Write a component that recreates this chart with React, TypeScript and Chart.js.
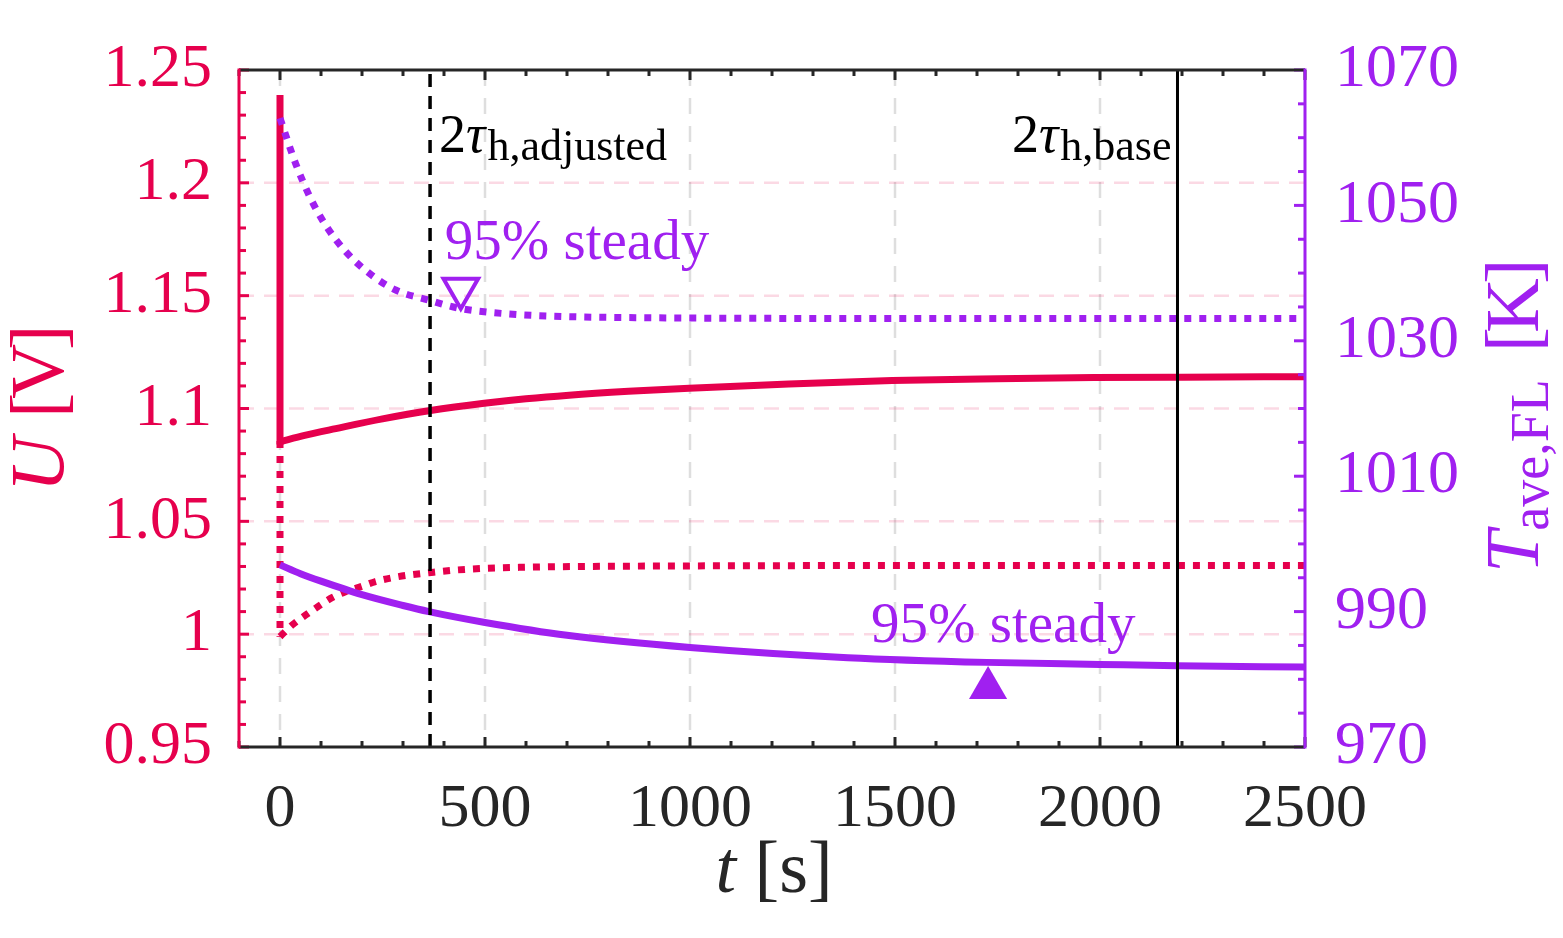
import React, { useEffect, useRef } from "react";
import { Chart, registerables } from "chart.js";

Chart.register(...registerables);

const RED = "#E6004D";
const PURPLE = "#A020F0";
const DARK = "#262626";
const FAMILY = "Liberation Serif";
const CSSFONT = '"Liberation Serif", "Times New Roman", serif';

// axis ticks
const xTicks = [0, 500, 1000, 1500, 2000, 2500];
const xTickLabels = ["0", "500", "1000", "1500", "2000", "2500"];
const uTicks = [0.95, 1.0, 1.05, 1.1, 1.15, 1.2, 1.25];
const uTickLabels = ["0.95", "1", "1.05", "1.1", "1.15", "1.2", "1.25"];
const tempTicks = [970, 990, 1010, 1030, 1050, 1070];
const tempTickLabels = ["970", "990", "1010", "1030", "1050", "1070"];

// U, solid (initial jump then recovery)
const uJumpT = [0, 0];
const uJumpV = [1.2389, 1.084];
const uSolidT = [0, 60, 136, 250, 367, 498, 600, 705, 850, 998, 1241, 1493, 1750, 1985, 2200, 2500];
const uSolidV = [1.0853, 1.0881, 1.0911, 1.0954, 1.0991, 1.1023, 1.1043, 1.1059, 1.1076, 1.109, 1.1109, 1.1124, 1.1132, 1.1137, 1.1139, 1.1141];

// U, dotted
const uDotJumpT = [0, 0];
const uDotJumpV = [1.0856, 0.9989];
const uDotT = [0, 30, 63, 95, 128, 160, 201, 233, 274, 315, 363, 428, 502, 583, 688, 1095, 1600, 2500];
const uDotV = [0.9989, 1.0041, 1.0085, 1.0125, 1.0163, 1.0188, 1.0213, 1.0233, 1.025, 1.0262, 1.0272, 1.0284, 1.0292, 1.0296, 1.0299, 1.0303, 1.0304, 1.0304];

// T_ave,FL, solid
const tempSolidT = [0, 50, 100, 200, 300, 363, 500, 700, 1000, 1385, 1724, 2000, 2188, 2500];
const tempSolidV = [996.9, 995.6, 994.5, 992.5, 990.9, 990.0, 988.4, 986.5, 984.7, 983.2, 982.5, 982.2, 982.0, 981.8];

// T_ave,FL, dotted
const tempDotT = [0, 38, 75, 111, 160, 217, 282, 363, 437, 550, 688, 900, 1500, 2500];
const tempDotV = [1062.9, 1056.2, 1051.0, 1047.1, 1043.2, 1040.0, 1037.5, 1036.0, 1034.8, 1034.0, 1033.6, 1033.4, 1033.3, 1033.3];

// reference times
const tauAdjusted = 366;
const tauBase = 2189;

// 95% steady markers
const steadyDotT = [441];
const steadyDotV = [1037.7];
const steadySolidT = [1727];
const steadySolidV = [978.7];

const pts = (ts: number[], vs: number[]) => ts.map((t, i) => ({ x: t, y: vs[i] }));

type Run = { text: string; font: string; dy?: number; kern?: number };

function runsWidth(ctx: CanvasRenderingContext2D, runs: Run[]) {
  let w = 0;
  for (const r of runs) {
    ctx.font = r.font;
    w += ctx.measureText(r.text).width + (r.kern || 0);
  }
  return w;
}

function drawRuns(ctx: CanvasRenderingContext2D, runs: Run[], x: number, y: number) {
  let cx = x;
  ctx.textAlign = "left";
  ctx.textBaseline = "alphabetic";
  for (const r of runs) {
    ctx.font = r.font;
    ctx.fillText(r.text, cx, y + (r.dy || 0));
    cx += ctx.measureText(r.text).width + (r.kern || 0);
  }
}

const f = (size: number, italic = false) => `${italic ? "italic " : ""}${size}px ${CSSFONT}`;

const decorPlugin = {
  id: "decor",
  beforeDatasetsDraw(chart: any) {
    const { ctx, chartArea: a, scales } = chart;
    const xs = scales.x;
    const ys = scales.y;
    ctx.save();
    ctx.lineWidth = 2.5;
    ctx.setLineDash([16, 12]);
    ctx.strokeStyle = "rgba(0,0,0,0.13)";
    for (const v of xTicks) {
      const px = xs.getPixelForValue(v);
      if (px <= a.left + 2 || px >= a.right - 2) continue;
      ctx.beginPath();
      ctx.moveTo(px, a.top);
      ctx.lineTo(px, a.bottom);
      ctx.stroke();
    }
    ctx.strokeStyle = "rgba(230,0,77,0.15)";
    ctx.setLineDash([15, 10]);
    for (const v of uTicks) {
      const py = ys.getPixelForValue(v);
      if (py <= a.top + 2 || py >= a.bottom - 2) continue;
      ctx.beginPath();
      ctx.moveTo(a.left, py);
      ctx.lineTo(a.right, py);
      ctx.stroke();
    }
    ctx.restore();
  },
  afterDatasetsDraw(chart: any) {
    const { ctx, chartArea: a, scales } = chart;
    const xs = scales.x;
    const ys = scales.y;
    const y2 = scales.y2;
    ctx.save();
    ctx.setLineDash([]);
    ctx.lineWidth = 3;
    ctx.lineCap = "butt";
    const seg = (x1: number, y1: number, x2: number, y2_: number, c: string) => {
      ctx.strokeStyle = c;
      ctx.beginPath();
      ctx.moveTo(x1, y1);
      ctx.lineTo(x2, y2_);
      ctx.stroke();
    };
    // x ticks every 100 (bottom and top)
    for (let k = -1; k <= 25; k++) {
      const px = xs.getPixelForValue(k * 100);
      const len = k % 5 === 0 ? 10 : 6;
      seg(px, a.bottom, px, a.bottom - len, DARK);
      seg(px, a.top, px, a.top + len, DARK);
    }
    // left ticks every 0.01
    for (let k = 95; k <= 125; k++) {
      const py = ys.getPixelForValue(k / 100);
      const len = k % 5 === 0 ? 10 : 7;
      seg(a.left, py, a.left + len, py, RED);
    }
    // right ticks every 5
    for (let k = 970; k <= 1070; k += 5) {
      const py = y2.getPixelForValue(k);
      const len = k % 20 === 10 ? 11 : 7;
      seg(a.right, py, a.right - len, py, PURPLE);
    }
    // frame
    seg(a.left, a.top, a.right, a.top, DARK);
    seg(a.left, a.bottom, a.right, a.bottom, DARK);
    seg(a.left, a.top - 1.5, a.left, a.bottom + 1.5, RED);
    seg(a.right, a.top - 1.5, a.right, a.bottom + 1.5, PURPLE);
    ctx.restore();
  },
  afterDraw(chart: any) {
    const { ctx, chartArea: a, scales } = chart;
    const xs = scales.x;
    const y2 = scales.y2;
    ctx.save();
    // tau annotations
    const tauRuns = (sub: string): Run[] => [
      { text: "2", font: f(54) },
      { text: "τ", font: f(54, true), kern: 2 },
      { text: sub, font: f(44), dy: 8 },
    ];
    ctx.fillStyle = "#000";
    drawRuns(ctx, tauRuns("h,adjusted"), xs.getPixelForValue(tauAdjusted) + 9, a.top + 82);
    const rb = tauRuns("h,base");
    const wb = runsWidth(ctx, rb);
    drawRuns(ctx, rb, xs.getPixelForValue(tauBase) - 6 - wb, a.top + 82);

    // 95% steady labels
    ctx.fillStyle = PURPLE;
    const steady: Run[] = [{ text: "95% steady", font: f(57) }];
    drawRuns(ctx, steady, xs.getPixelForValue(steadyDotT[0]) - 16, y2.getPixelForValue(steadyDotV[0]) - 30);
    drawRuns(ctx, steady, xs.getPixelForValue(steadySolidT[0]) - 117, y2.getPixelForValue(steadySolidV[0]) - 46);

    // x title
    ctx.fillStyle = DARK;
    const xt: Run[] = [
      { text: "t", font: f(74, true) },
      { text: " ", font: f(74) },
      { text: "[s]", font: f(74) },
    ];
    const cx = (a.left + a.right) / 2;
    drawRuns(ctx, xt, cx - runsWidth(ctx, xt) / 2 + 2, 892);

    // left title
    ctx.save();
    ctx.translate(63, 492);
    ctx.rotate(-Math.PI / 2);
    ctx.fillStyle = RED;
    drawRuns(ctx, [
      { text: "U", font: f(76, true) },
      { text: " ", font: f(76) },
      { text: "[", font: f(76), kern: -6 },
      { text: "V", font: f(76), kern: -6 },
      { text: "]", font: f(76) },
    ], 0, 0);
    ctx.restore();

    // right title
    ctx.save();
    ctx.translate(1538, 573);
    ctx.rotate(-Math.PI / 2);
    ctx.fillStyle = PURPLE;
    drawRuns(ctx, [
      { text: "T", font: f(76, true), kern: 0 },
      { text: "ave,FL", font: f(54), dy: 10 },
      { text: "  ", font: f(54) },
      { text: "[", font: f(76), kern: -6 },
      { text: "K", font: f(76), kern: -6 },
      { text: "]", font: f(76) },
    ], 0, 0);
    ctx.restore();

    ctx.restore();
  },
};

export default function App() {
  const ref = useRef<HTMLCanvasElement | null>(null);

  useEffect(() => {
    if (!ref.current) return;
    const lineBase = { pointRadius: 0, borderCapStyle: "butt", fill: false };
    const chart = new Chart(ref.current, {
      type: "line",
      data: {
        datasets: [
          { ...lineBase, label: "2tau adjusted", data: pts([tauAdjusted, tauAdjusted], [0.95, 1.25]), yAxisID: "y", borderColor: "#000", borderWidth: 3.5, borderDash: [13, 9] },
          { ...lineBase, label: "2tau base", data: pts([tauBase, tauBase], [0.95, 1.25]), yAxisID: "y", borderColor: "#000", borderWidth: 3 },
          { label: "steady dotted", data: pts(steadyDotT, steadyDotV), yAxisID: "y2", showLine: false, pointStyle: "triangle", rotation: 180, pointRadius: 20, pointBorderWidth: 4, pointBorderColor: PURPLE, pointBackgroundColor: "rgba(0,0,0,0)", borderColor: PURPLE },
          { label: "steady solid", data: pts(steadySolidT, steadySolidV), yAxisID: "y2", showLine: false, pointStyle: "triangle", pointRadius: 22, pointBorderWidth: 0, pointBackgroundColor: PURPLE, borderColor: PURPLE },
          { ...lineBase, label: "T solid", data: pts(tempSolidT, tempSolidV), yAxisID: "y2", borderColor: PURPLE, borderWidth: 7, cubicInterpolationMode: "monotone" },
          { ...lineBase, label: "T dotted", data: pts(tempDotT, tempDotV), yAxisID: "y2", borderColor: PURPLE, borderWidth: 7, borderDash: [7, 8], cubicInterpolationMode: "monotone" },
          { ...lineBase, label: "U solid jump", data: pts(uJumpT, uJumpV), yAxisID: "y", borderColor: RED, borderWidth: 7 },
          { ...lineBase, label: "U solid", data: pts(uSolidT, uSolidV), yAxisID: "y", borderColor: RED, borderWidth: 7, cubicInterpolationMode: "monotone" },
          { ...lineBase, label: "U dotted jump", data: pts(uDotJumpT, uDotJumpV), yAxisID: "y", borderColor: RED, borderWidth: 7, borderDash: [7, 8] },
          { ...lineBase, label: "U dotted", data: pts(uDotT, uDotV), yAxisID: "y", borderColor: RED, borderWidth: 7, borderDash: [7, 8], cubicInterpolationMode: "monotone" },
        ] as any,
      },
      options: {
        animation: false,
        responsive: false,
        devicePixelRatio: 1,
        layout: { padding: { top: 70, left: 0, right: 0, bottom: 0 } },
        plugins: { legend: { display: false }, tooltip: { enabled: false } },
        scales: {
          x: {
            type: "linear",
            position: "bottom",
            min: -100,
            max: 2500,
            grid: { display: false, drawTicks: false },
            border: { display: false },
            ticks: {
              autoSkip: false,
              maxRotation: 0,
              minRotation: 0,
              padding: 26,
              color: DARK,
              font: { family: FAMILY, size: 62 },
              callback: (_v: any, i: number) => xTickLabels[i],
            },
            afterBuildTicks: (s: any) => {
              s.ticks = xTicks.map((v) => ({ value: v }));
            },
            afterFit: (s: any) => {
              s.height = 191;
            },
          },
          y: {
            type: "linear",
            position: "left",
            min: 0.95,
            max: 1.25,
            grid: { display: false, drawTicks: false },
            border: { display: false },
            ticks: {
              autoSkip: false,
              padding: 27,
              color: RED,
              font: { family: FAMILY, size: 62 },
              callback: (_v: any, i: number) => uTickLabels[i],
            },
            afterBuildTicks: (s: any) => {
              s.ticks = uTicks.map((v) => ({ value: v }));
            },
            afterFit: (s: any) => {
              s.width = 239;
            },
          },
          y2: {
            type: "linear",
            position: "right",
            min: 970,
            max: 1070,
            grid: { display: false, drawTicks: false },
            border: { display: false },
            ticks: {
              autoSkip: false,
              padding: 30,
              color: PURPLE,
              font: { family: FAMILY, size: 62 },
              callback: (_v: any, i: number) => tempTickLabels[i],
            },
            afterBuildTicks: (s: any) => {
              s.ticks = tempTicks.map((v) => ({ value: v }));
            },
            afterFit: (s: any) => {
              s.width = 258;
            },
          },
        },
      } as any,
      plugins: [decorPlugin as any],
    });
    return () => chart.destroy();
  }, []);

  return (
    <div style={{ position: "absolute", left: 0, top: 0, width: 1563, height: 938, background: "#fff" }}>
      <canvas ref={ref} width={1563} height={938} style={{ width: 1563, height: 938, display: "block" }} />
    </div>
  );
}
